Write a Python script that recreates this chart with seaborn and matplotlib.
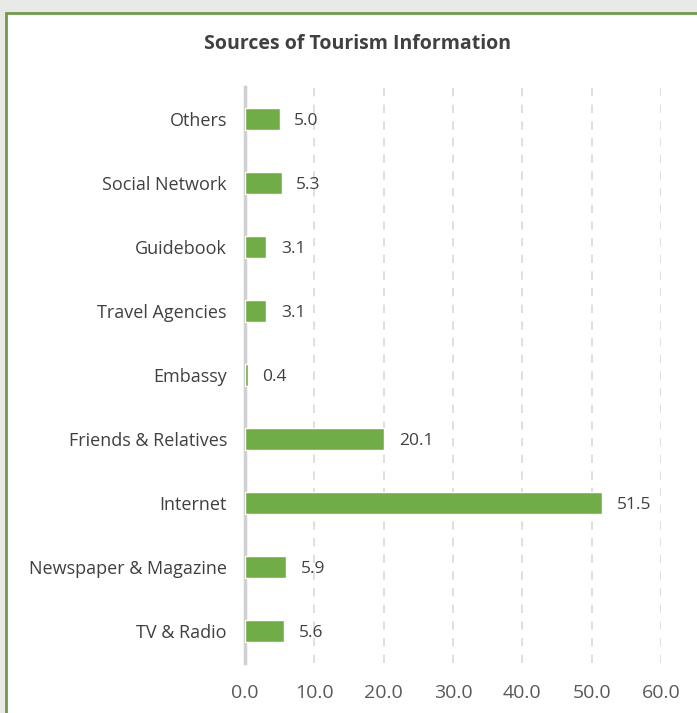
import matplotlib
matplotlib.use("Agg")
import matplotlib.pyplot as plt
import pandas as pd
import seaborn as sns
from matplotlib.patches import Rectangle

categories = ["Others", "Social Network", "Guidebook", "Travel Agencies", "Embassy",
              "Friends & Relatives", "Internet", "Newspaper & Magazine", "TV & Radio"]
values = [5.0, 5.3, 3.1, 3.1, 0.4, 20.1, 51.5, 5.9, 5.6]
xticks = [0, 10, 20, 30, 40, 50, 60]

sns.set_theme(style="white")
plt.rcParams["font.family"] = ["Open Sans", "DejaVu Sans"]

df = pd.DataFrame({"source": categories, "pct": values})

fig = plt.figure(figsize=(6.97, 7.13), dpi=100)
fig.patch.set_facecolor("#e9e9e7")

# white chart panel with green border, cropped at right/bottom
panel = Rectangle((6 / 697, -0.01), 1.0, 1 - 13 / 713 + 0.01, transform=fig.transFigure,
                  facecolor="white", edgecolor="#6f9a4e", linewidth=2, zorder=-1)
fig.patches.append(panel)

ax = fig.add_axes([245 / 697, 50 / 713, 416 / 697, 576 / 713])
ax.set_facecolor("none")

sns.barplot(data=df, y="source", x="pct", orient="h", color="#70ad47",
            width=0.35, saturation=1, ax=ax, zorder=3)

for i, v in enumerate(values):
    ax.text(v + 2.1, i + 0.03, f"{v:.1f}", va="center", ha="left", fontsize=12.5, color="#404040")

ax.set_xlim(0, 60)
ax.set_ylim(8.5, -0.5)
ax.set_xticks(xticks)
ax.set_xticklabels([f"{t:.1f}" for t in xticks], fontsize=14, color="#595959")
ax.tick_params(axis="x", length=0, pad=15)
ax.tick_params(axis="y", length=0, pad=13, labelsize=13, labelcolor="#404040")
ax.set_xlabel("")
ax.set_ylabel("")

ax.grid(axis="x", color="#d9d9d9", linestyle=(0, (5, 5)), linewidth=1.2, zorder=0)
for s in ["top", "right", "bottom"]:
    ax.spines[s].set_visible(False)
ax.spines["left"].set_color("#d0d0d0")
ax.spines["left"].set_linewidth(2.5)
ax.spines["left"].set_zorder(2)

fig.text(358 / 697, 1 - 44 / 713, "Sources of Tourism Information", ha="center", va="center",
         fontsize=14, fontweight="bold", color="#404040")

fig.savefig("out.png", dpi=100)
